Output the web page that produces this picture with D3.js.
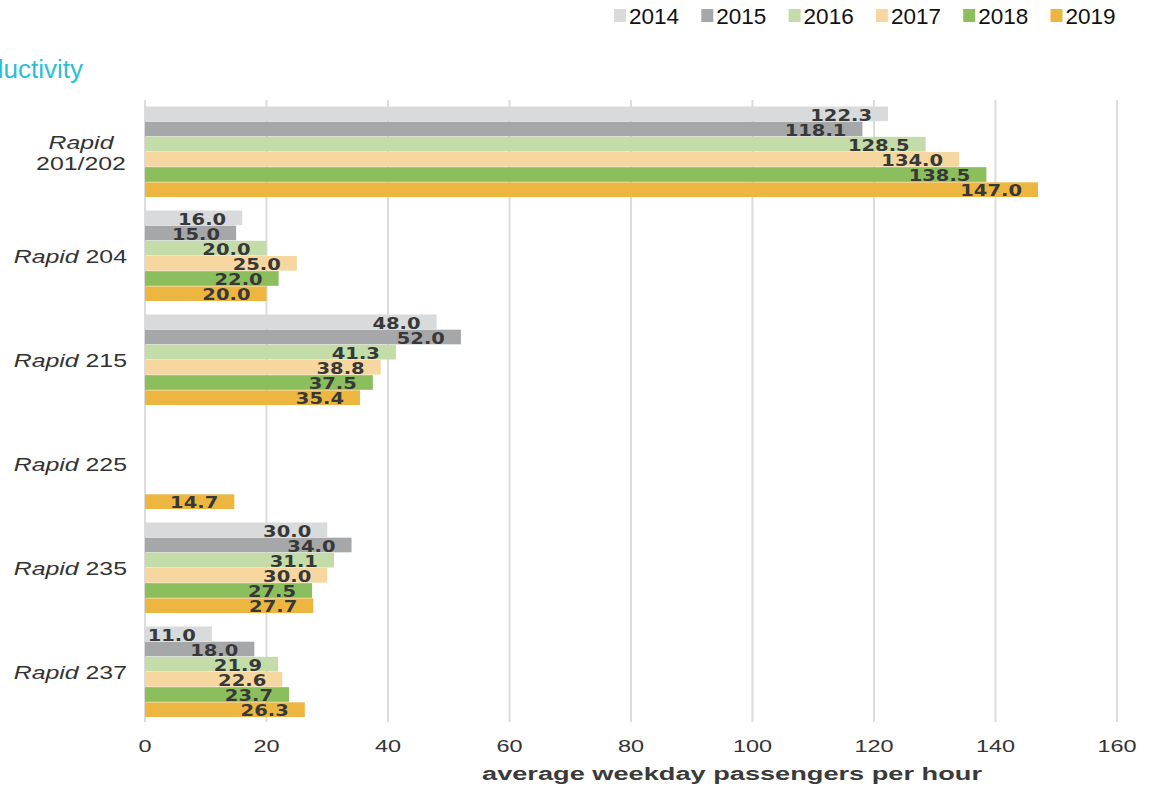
<!DOCTYPE html>
<html>
<head>
<meta charset="utf-8">
<script src="https://cdn.jsdelivr.net/npm/d3@7"></script>
<style>
  body { margin: 0; background: #fff; }
  svg { display: block; font-family: "Liberation Sans", Arial, sans-serif; }
</style>
</head>
<body>
<script>
// chart data
var routes = ["Rapid 201/202", "Rapid 204", "Rapid 215", "Rapid 225", "Rapid 235", "Rapid 237"];
var years = ["2014", "2015", "2016", "2017", "2018", "2019"];
var colors = ["#d9dadb", "#a6a7a9", "#c3dca8", "#f5d79f", "#8bbf5d", "#ecb641"];
var v2014 = [122.3, 16.0, 48.0, null, 30.0, 11.0];
var v2015 = [118.1, 15.0, 52.0, null, 34.0, 18.0];
var v2016 = [128.5, 20.0, 41.3, null, 31.1, 21.9];
var v2017 = [134.0, 25.0, 38.8, null, 30.0, 22.6];
var v2018 = [138.5, 22.0, 37.5, null, 27.5, 23.7];
var v2019 = [147.0, 20.0, 35.4, 14.7, 27.7, 26.3];
var xTicks = [0, 20, 40, 60, 80, 100, 120, 140, 160];

var series = [v2014, v2015, v2016, v2017, v2018, v2019];
var rows = [];
routes.forEach(function(r, i) {
  years.forEach(function(y, j) {
    if (series[j][i] != null) rows.push({route: r, year: y, value: series[j][i], c: colors[j]});
  });
});

var W = 1152, H = 788;
var svg = d3.select("body").append("svg").attr("width", W).attr("height", H);

var x = d3.scaleLinear().domain([0, 160]).range([145, 1117]);
var y = d3.scaleBand().domain(routes).range([106, 717]).paddingInner(13 / 104).paddingOuter(0);
var yy = d3.scaleBand().domain(years).range([0, y.bandwidth()]);

var SX = 1.38; // horizontal stretch of the chart's text

// title (cut off at the left edge, as in the source)
svg.append("text").attr("x", 83).attr("y", 78).attr("text-anchor", "end")
  .attr("fill", "#2bbfd5").style("font-size", "26px")
  .text("Productivity");

// legend
var lg = svg.append("g").selectAll("g").data(years).enter().append("g")
  .attr("transform", function(d, i) { return "translate(" + (614 + i * 87.3) + ",0)"; });
lg.append("rect").attr("x", 0).attr("y", 9).attr("width", 12).attr("height", 13)
  .attr("fill", function(d, i) { return colors[i]; });
lg.append("text").attr("x", 15).attr("y", 24).style("font-size", "22.5px").attr("fill", "#111")
  .text(function(d) { return d; });

// grid
svg.append("g").selectAll("line").data(xTicks).enter().append("line")
  .attr("x1", function(d) { return x(d); }).attr("x2", function(d) { return x(d); })
  .attr("y1", 100).attr("y2", 722)
  .attr("stroke", "#dcdcdc").attr("stroke-width", 2);

// x tick labels
svg.append("g").selectAll("text").data(xTicks).enter().append("text")
  .attr("text-anchor", "middle").attr("fill", "#333").style("font-size", "17px")
  .attr("transform", function(d) { return "translate(" + x(d) + ",752) scale(" + SX + ",1)"; })
  .text(function(d) { return d; });

svg.append("text").attr("text-anchor", "middle").attr("fill", "#3a3a3a")
  .style("font-size", "18px").style("font-weight", "bold")
  .attr("transform", "translate(732,780) scale(1.51,1)")
  .text("average weekday passengers per hour");

// route labels
var rl = svg.append("g").selectAll("text").data(routes).enter().append("text")
  .attr("fill", "#333").style("font-size", "18px")
  .attr("text-anchor", function(d) { return d.indexOf("/") > 0 ? "middle" : "end"; })
  .attr("transform", function(d) {
    var cy = y(d) + y.bandwidth() / 2;
    var tx = d.indexOf("/") > 0 ? 81 : 127;
    return "translate(" + tx + "," + (cy + 7) + ") scale(" + SX + ",1)";
  });
rl.each(function(d) {
  var t = d3.select(this), parts = d.split(" ");
  if (d.indexOf("/") > 0) {
    t.append("tspan").attr("x", 0).attr("dy", -10).style("font-style", "italic").text(parts[0]);
    t.append("tspan").attr("x", 0).attr("dy", 21).text(parts[1]);
  } else {
    t.append("tspan").style("font-style", "italic").text(parts[0]);
    t.append("tspan").text(" " + parts[1]);
  }
});

// bars
var bars = svg.append("g").selectAll("g").data(rows).enter().append("g")
  .attr("transform", function(d) { return "translate(0," + (y(d.route) + yy(d.year)) + ")"; });
bars.append("rect").attr("x", x(0)).attr("y", 0.5)
  .attr("width", function(d) { return x(d.value) - x(0); })
  .attr("height", yy.bandwidth() - 0.5)
  .attr("fill", function(d) { return d.c; });
bars.append("text").attr("text-anchor", "end").attr("fill", "#383838")
  .style("font-family", "'DejaVu Sans', sans-serif").style("font-weight", "bold").style("font-size", "15.5px")
  .attr("transform", function(d) { return "translate(" + (x(d.value) - 16) + ",14.5) scale(1.26,1)"; })
  .text(function(d) { return d.value.toFixed(1); });
</script>
</body>
</html>
